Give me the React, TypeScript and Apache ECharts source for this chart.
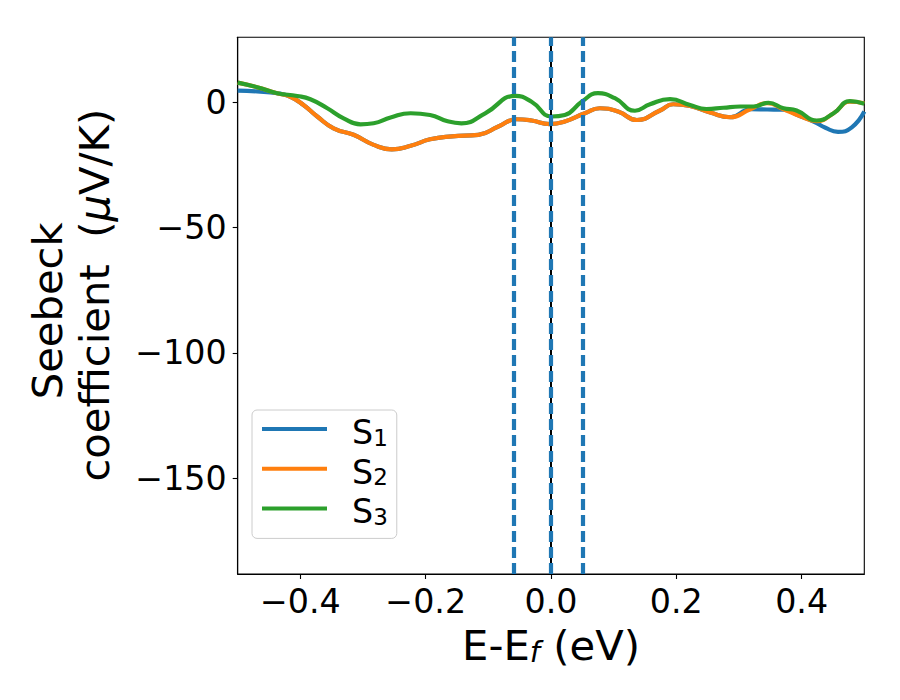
import React, { useEffect, useRef } from "react";
import * as echarts from "echarts";

// ---- data ----
const s1X = [-0.5, -0.469, -0.437, -0.416, -0.395, -0.373, -0.347, -0.315, -0.283, -0.254, -0.224, -0.193, -0.158, -0.116, -0.084, -0.055, -0.031, -0.002, 0.022, 0.054, 0.078, 0.107, 0.137, 0.174, 0.195, 0.222, 0.254, 0.286, 0.318, 0.345, 0.371, 0.397, 0.419, 0.438, 0.458, 0.48, 0.5];
const s1Y = [4.6, 4.3, 3.6, 2.2, -1.1, -5.7, -10.4, -13.0, -17.0, -18.8, -17.4, -14.8, -13.6, -13.0, -9.7, -6.8, -7.3, -8.7, -7.7, -4.4, -2.4, -3.7, -7.1, -3.3, -0.8, -1.5, -4.1, -6.0, -2.8, -2.9, -3.0, -5.5, -7.7, -10.2, -11.8, -10.0, -3.7];

const s2X = [-0.5, -0.469, -0.437, -0.416, -0.395, -0.373, -0.347, -0.315, -0.283, -0.254, -0.224, -0.193, -0.158, -0.116, -0.084, -0.055, -0.031, -0.002, 0.022, 0.054, 0.078, 0.107, 0.137, 0.174, 0.195, 0.222, 0.254, 0.286, 0.318, 0.345, 0.371, 0.397, 0.424, 0.451, 0.477, 0.5];
const s2Y = [7.8, 6.0, 3.6, 2.2, -1.1, -5.7, -10.4, -13.0, -17.0, -18.8, -17.4, -14.8, -13.6, -13.0, -9.7, -6.8, -7.3, -8.7, -7.7, -4.4, -2.4, -3.7, -7.1, -3.3, -0.8, -1.5, -4.1, -6.0, -2.8, -0.4, -2.8, -5.5, -7.5, -4.4, 0.2, -0.4];

const s3X = [-0.5, -0.469, -0.437, -0.405, -0.384, -0.357, -0.331, -0.304, -0.283, -0.256, -0.224, -0.193, -0.165, -0.143, -0.105, -0.057, -0.031, 0.001, 0.022, 0.049, 0.075, 0.102, 0.134, 0.158, 0.19, 0.222, 0.248, 0.275, 0.302, 0.323, 0.347, 0.371, 0.392, 0.424, 0.451, 0.477, 0.5];
const s3Y = [7.8, 6.0, 3.6, 2.5, 1.2, -2.4, -6.4, -8.8, -8.4, -6.1, -4.4, -5.1, -7.6, -8.4, -4.4, 2.5, 0.2, -5.7, -5.1, 0.2, 3.6, 1.6, -3.4, -0.8, 1.2, -1.1, -2.7, -2.2, -1.7, -1.7, -0.2, -2.4, -3.3, -7.3, -4.4, 0.4, -0.6];

const seriesNames = ["S1", "S2", "S3"];
const seriesColors = ["#1f77b4", "#ff7f0e", "#2ca02c"];
const xTicks = [-0.4, -0.2, 0, 0.2, 0.4];
const yTicks = [-150, -100, -50, 0];
const dashedLines = [-0.055, 0, 0.054];
const fermiLines = [0];

const FONT = "DejaVu Sans";

function fmt(v: number, digits: number): string {
  const s = Math.abs(v).toFixed(digits);
  return v < 0 ? "\u2212" + s : s;
}

function zip(xs: number[], ys: number[]): number[][] {
  return xs.map((x, i) => [x, ys[i]]);
}

export default function App() {
  const ref = useRef<HTMLDivElement>(null);

  useEffect(() => {
    if (!ref.current) return;
    const chart = echarts.init(ref.current, null, { renderer: "svg" });
    const datasets = [zip(s1X, s1Y), zip(s2X, s2Y), zip(s3X, s3Y)];

    const option: any = {
      animation: false,
      backgroundColor: "#ffffff",
      grid: {
        left: 237.7,
        right: 35.7,
        top: 37.3,
        bottom: 126,
        show: true,
        borderColor: "#000",
        borderWidth: 1.1,
        backgroundColor: "transparent",
      },
      xAxis: {
        type: "value",
        min: -0.5,
        max: 0.5,
        splitLine: { show: false },
        axisLine: { show: true, onZero: false, lineStyle: { color: "#000", width: 1.1 } },
        axisTick: { show: true, length: 5, customValues: xTicks, lineStyle: { color: "#000", width: 1.1 } },
        axisLabel: {
          customValues: xTicks,
          formatter: (v: number) => fmt(v, 1),
          fontSize: 33.3,
          fontFamily: FONT,
          color: "#000",
          margin: 11,
        },
      },
      yAxis: {
        type: "value",
        min: -188.2,
        max: 25.9,
        splitLine: { show: false },
        axisLine: { show: true, onZero: false, lineStyle: { color: "#000", width: 1.1 } },
        axisTick: { show: true, length: 5, customValues: yTicks, lineStyle: { color: "#000", width: 1.1 } },
        axisLabel: {
          customValues: yTicks,
          formatter: (v: number) => fmt(v, 0),
          fontSize: 33.3,
          fontFamily: FONT,
          color: "#000",
          margin: 11,
        },
      },
      legend: {
        orient: "vertical",
        left: 252,
        top: 410,
        padding: [6, 9, 10, 10],
        itemWidth: 65,
        itemHeight: 4,
        itemGap: 6.7,
        icon: "rect",
        selectedMode: false,
        backgroundColor: "rgba(255,255,255,0.8)",
        borderColor: "#cccccc",
        borderWidth: 1,
        borderRadius: 5,
        data: seriesNames,
        formatter: (name: string) => `{s|S}{sub|${name.slice(1)}}`,
        textStyle: {
          rich: {
            s: { fontSize: 33.3, fontFamily: FONT, color: "#000", lineHeight: 40, verticalAlign: "bottom", padding: [0, 0, 0, 20] },
            sub: { fontSize: 23, fontFamily: FONT, color: "#000", lineHeight: 25, verticalAlign: "bottom" },
          },
        },
      },
      graphic: [
        {
          type: "text",
          x: 551,
          y: 666,
          style: {
            text: "{a|E-E}{f|f}{a| (eV)}",
            x: 0,
            y: 0,
            align: "center",
            verticalAlign: "bottom",
            rich: {
              a: { fontSize: 41.7, fontFamily: FONT, color: "#000", lineHeight: 42, verticalAlign: "bottom" },
              f: { fontSize: 29, fontFamily: FONT, fontStyle: "italic", color: "#000", lineHeight: 26, verticalAlign: "bottom" },
            },
          },
        },
        {
          type: "text",
          x: 47.1,
          y: 310.8,
          rotation: Math.PI / 2,
          style: {
            text: "Seebeck",
            x: 0,
            y: 0,
            align: "center",
            verticalAlign: "middle",
            fontSize: 41.7,
            fontFamily: FONT,
            fill: "#000",
          },
        },
        {
          type: "text",
          x: 94.9,
          y: 295.2,
          rotation: Math.PI / 2,
          style: {
            text: "{a|coefficient  (}{m|\u03bc}{a|V/K)}",
            x: 0,
            y: 0,
            align: "center",
            verticalAlign: "middle",
            rich: {
              a: { fontSize: 41.7, fontFamily: FONT, color: "#000", lineHeight: 42 },
              m: { fontSize: 41.7, fontFamily: FONT, fontStyle: "italic", color: "#000", lineHeight: 42 },
            },
          },
        },
      ],
      series: seriesNames.map((name, i) => {
        const s: any = {
          name,
          type: "line",
          data: datasets[i],
          smooth: 0.5,
          showSymbol: false,
          symbol: "none",
          z: 2 + i,
          lineStyle: { width: 4.2, color: seriesColors[i] },
          itemStyle: { color: seriesColors[i] },
        };
        if (i === 1) {
          s.markLine = {
            silent: true,
            z: 6,
            symbol: ["none", "none"],
            label: { show: false },
            lineStyle: { color: "#000", width: 2, type: "solid" },
            emphasis: { disabled: true },
            data: fermiLines.map((v) => ({ xAxis: v })),
          };
        }
        if (i === 2) {
          s.markLine = {
            silent: true,
            z: 7,
            symbol: ["none", "none"],
            label: { show: false },
            lineStyle: { color: "#1f77b4", width: 4.2, type: [11, 5] },
            emphasis: { disabled: true },
            data: dashedLines.map((v) => ({ xAxis: v })),
          };
        }
        return s;
      }),
    };

    chart.setOption(option);
    return () => chart.dispose();
  }, []);

  return (
    <div
      ref={ref}
      style={{ position: "fixed", left: 0, top: 0, width: 900, height: 700 }}
    />
  );
}
